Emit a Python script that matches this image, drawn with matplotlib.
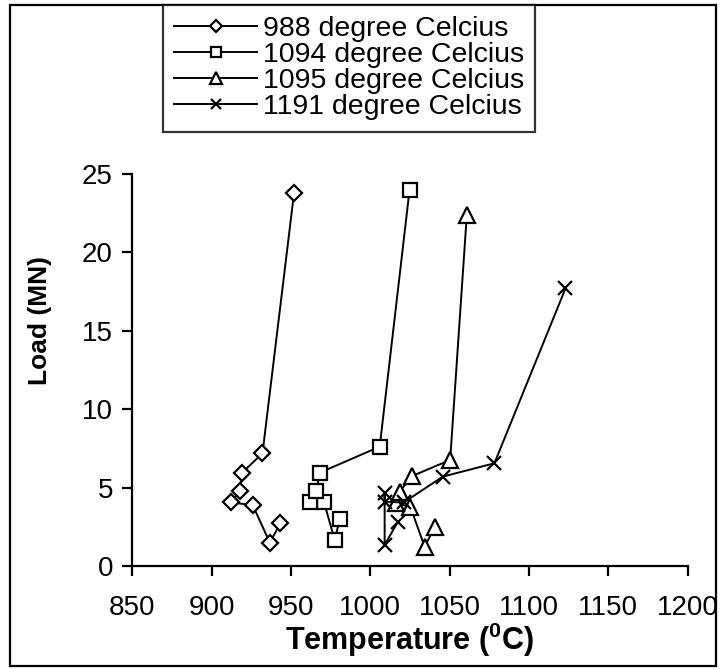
import matplotlib
matplotlib.use("Agg")
import matplotlib.pyplot as plt
from matplotlib.patches import Rectangle

plt.rcParams['font.family'] = ['Liberation Sans', 'DejaVu Sans']
plt.rcParams['mathtext.fontset'] = 'custom'
plt.rcParams['mathtext.rm'] = 'Liberation Sans'
plt.rcParams['mathtext.bf'] = 'Liberation Sans:bold'

labels = ["988 degree Celcius", "1094 degree Celcius",
          "1095 degree Celcius", "1191 degree Celcius"]

t988 = [943.3, 936.6, 925.9, 912.3, 917.7, 919.2, 932.0, 951.9]
l988 = [2.72, 1.49, 3.87, 4.06, 4.78, 5.95, 7.19, 23.8]

t1094 = [980.7, 977.5, 970.8, 961.8, 966.0, 968.1, 1005.9, 1024.7]
l1094 = [2.98, 1.66, 4.06, 4.06, 4.78, 5.95, 7.61, 23.98]

t1095 = [1040.5, 1034.2, 1025.2, 1015.9, 1018.4, 1026.4, 1050.3, 1060.8]
l1095 = [2.47, 1.23, 3.78, 4.00, 4.74, 5.74, 6.76, 22.4]

t1191 = [1017.4, 1009.0, 1009.0, 1009.0, 1021.0, 1045.7, 1078.2, 1123.0]
l1191 = [2.83, 1.34, 4.64, 4.10, 4.05, 5.70, 6.55, 17.7]

xticks = [850, 900, 950, 1000, 1050, 1100, 1150, 1200]
yticks = [0, 5, 10, 15, 20, 25]

fig = plt.figure(figsize=(7.22, 6.69), dpi=100)
ax = fig.add_axes([0.1834, 0.1540, 0.7690, 0.5859])

series = [(t988, l988, 'D', 8.5), (t1094, l1094, 's', 10.5),
          (t1095, l1095, '^', 11.5), (t1191, l1191, 'x', 10.5)]
for (t, l, m, ms), lab in zip(series, labels):
    ax.plot(t, l, color='black', lw=1.4, marker=m, ms=ms,
            markerfacecolor='white', markeredgecolor='black',
            markeredgewidth=1.6, label=lab, clip_on=False)

ax.set_xlim(850, 1200)
ax.set_ylim(0, 25)
ax.set_xticks(xticks)
ax.set_yticks(yticks)
for s in ['top', 'right']:
    ax.spines[s].set_visible(False)
for s in ['left', 'bottom']:
    ax.spines[s].set_linewidth(1.6)
ax.tick_params(direction='out', length=7, width=1.6, labelsize=20)
ax.tick_params(axis='x', pad=14)
ax.tick_params(axis='y', pad=7)

ax.set_xlabel(r'Temperature ($^\mathbf{0}$C)', fontsize=22, fontweight='bold')
ax.xaxis.set_label_coords(0.5, -0.140)
ax.set_ylabel('Load (MN)', fontsize=19, fontweight='bold')
ax.yaxis.set_label_coords(-0.145, 0.625)

leg = fig.legend(loc='upper left', bbox_to_anchor=(163/722, 1 - 5/669),
                 fontsize=20.5, frameon=True, fancybox=False, edgecolor='black',
                 handlelength=2.9, handletextpad=0.2, labelspacing=0.0,
                 borderpad=0.4, borderaxespad=0, markerscale=0.75)
leg.get_frame().set_linewidth(1.6)

fig.patches.append(Rectangle((10/722, 3/669), 706/722, 661/669, transform=fig.transFigure,
                             fill=False, edgecolor='black', lw=1.6))

fig.savefig('out.png', dpi=100)
